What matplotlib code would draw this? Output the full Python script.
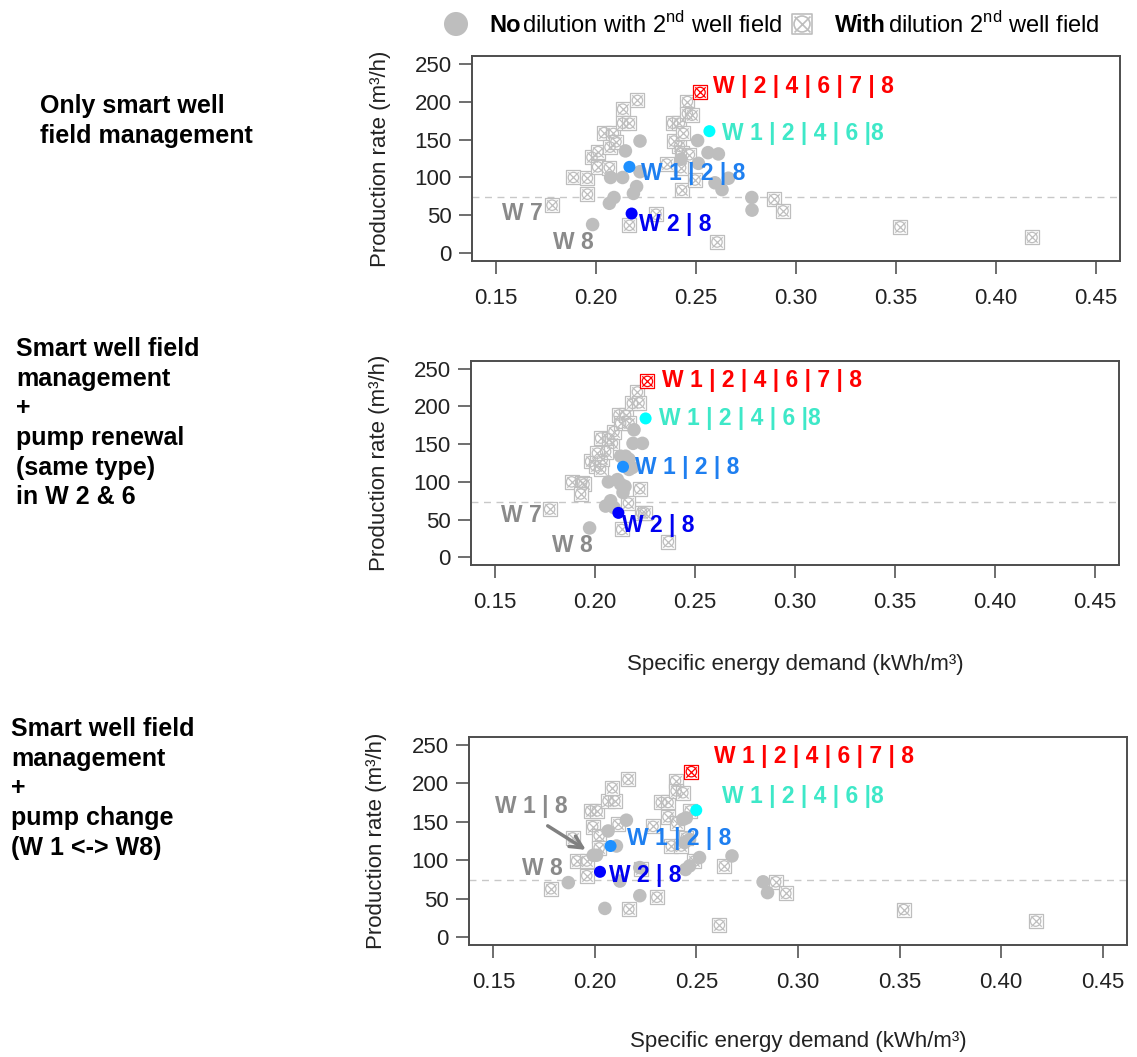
import matplotlib
matplotlib.use("Agg")
import matplotlib.pyplot as plt
import numpy as np

plt.rcParams['font.family'] = ['Liberation Sans', 'DejaVu Sans']
plt.rcParams['mathtext.fontset'] = 'custom'
plt.rcParams['mathtext.rm'] = 'Liberation Sans'

# scenario 1: only smart well field management
s1_nodil_x = [0.1983, 0.2067, 0.209, 0.2073, 0.2133, 0.2147, 0.222, 0.2187, 0.2203, 0.222,
              0.2508, 0.2512, 0.256, 0.2612, 0.2595, 0.263, 0.2662, 0.2779, 0.278, 0.2425]
s1_nodil_y = [38, 66, 73.6, 100, 100, 135, 148, 79, 88, 107.6,
              148.6, 118.6, 132.7, 131, 93, 84, 99, 73.6, 57, 124]
s1_dil_x = [0.178, 0.1887, 0.1957, 0.1957, 0.198, 0.201, 0.2008, 0.204, 0.2087, 0.2067,
            0.207, 0.21, 0.2133, 0.2133, 0.2167, 0.2207, 0.2167, 0.230, 0.2353, 0.2383,
            0.2417, 0.2417, 0.239, 0.2437, 0.2457, 0.2457, 0.248, 0.2428, 0.2467, 0.2423,
            0.2428, 0.2495, 0.2605, 0.289, 0.2935, 0.352, 0.418]
s1_dil_y = [63.5, 100, 99, 78, 126.6, 134, 114, 159, 158, 113,
            140, 147, 190, 171.5, 171.5, 201.5, 37, 51.6, 117.7, 171.5,
            171.5, 141, 148, 158, 200, 184, 182, 132, 130, 113,
            83, 96.6, 15, 71, 56, 35, 21]
s1_best_x = [0.252, 0.2567, 0.2167, 0.2178]
s1_best_y = [212, 161, 114, 52.5]

# scenario 2: smart management + pump renewal in W 2 & 6
s2_nodil_x = [0.1973, 0.2067, 0.2053, 0.2078, 0.2112, 0.2128, 0.215, 0.214, 0.2128, 0.2153,
              0.217, 0.217, 0.2195, 0.219, 0.2237, 0.2187, 0.2095]
s2_nodil_y = [39, 100, 68, 75, 103, 97, 94, 86, 134, 134,
              130, 116.5, 169, 151, 151, 119, 66]
s2_dil_x = [0.1773, 0.1883, 0.1933, 0.1945, 0.1928, 0.1978, 0.2003, 0.2028, 0.2037, 0.2028,
            0.207, 0.2087, 0.2095, 0.212, 0.2128, 0.2153, 0.217, 0.2187, 0.2212, 0.222,
            0.2053, 0.2012, 0.2223, 0.2167, 0.2233, 0.225, 0.2133, 0.2367]
s2_dil_y = [64, 100, 99, 97, 84, 127, 121, 117, 130, 158,
            157, 151, 166.6, 188.5, 177.6, 188.5, 177.6, 204, 219, 204.6,
            140, 138, 91, 72, 59, 59, 37, 21]
s2_best_x = [0.2262, 0.2253, 0.214, 0.2117]
s2_best_y = [233, 184, 120, 59]

# scenario 3: smart management + pump change W 1 <-> W 8
s3_nodil_x = [0.1869, 0.2049, 0.1992, 0.2008, 0.2065, 0.2106, 0.2155, 0.2123, 0.2221, 0.2221,
              0.2446, 0.2466, 0.2433, 0.245, 0.2441, 0.2466, 0.2515, 0.2675, 0.2828, 0.285]
s3_nodil_y = [71, 37.5, 106.5, 106.5, 138, 118.5, 152, 73, 54, 90.5,
              88, 92.6, 153, 155, 123, 127, 103.5, 105.6, 72, 58]
s3_dil_x = [0.1783, 0.189, 0.191, 0.196, 0.196, 0.1979, 0.2011, 0.1989, 0.2021, 0.2021,
            0.2065, 0.2098, 0.2085, 0.2163, 0.2114, 0.2167, 0.2229, 0.2286, 0.2305, 0.2327,
            0.236, 0.236, 0.2397, 0.24, 0.2433, 0.2403, 0.2376, 0.2425, 0.2449, 0.2469,
            0.249, 0.2637, 0.2613, 0.289, 0.294, 0.352, 0.417]
s3_dil_y = [63, 129, 99, 99, 80, 164, 164, 143.6, 132, 116,
            177, 177, 194, 205, 146.6, 36.6, 89, 144, 52, 175,
            175, 156.5, 203, 190, 187.6, 149, 118.5, 118.5, 129, 164,
            99, 92.6, 16, 72, 57, 36, 21]
s3_best_x = [0.2475, 0.2499, 0.2077, 0.2025]
s3_best_y = [215, 165, 118.5, 85]

min_rate = 74

W, H = 1137, 1057
GREY = '#BEBEBE'
TXT_GREY = '#8A8A8A'
best_cols = ['#FF0000', '#00FFFF', '#1E90FF', '#0000FF']
label_cols = ['#FF0000', '#3EE8C8', '#1E7FF0', '#0000F0']

fig = plt.figure(figsize=(W / 100, H / 100), dpi=100)


def px_axes(left, top, right, bottom):
    return fig.add_axes([left / W, 1 - bottom / H, (right - left) / W, (bottom - top) / H])


def crossed(ax, x, y, col, size=13, lw=0.9, z=2):
    ax.scatter(x, y, marker='s', s=size ** 2 * 0.55, facecolors='white', edgecolors=col, linewidths=lw, zorder=z)
    ax.scatter(x, y, marker='o', s=size ** 2 * 0.33, facecolors='none', edgecolors=col, linewidths=lw, zorder=z)
    ax.scatter(x, y, marker='x', s=size ** 2 * 0.33, color=col, linewidths=lw, zorder=z)


def panel(ax, nx, ny, dx, dy, bx, by, labels, xlabel):
    ax.axhline(min_rate, color='#C8C8C8', lw=1, ls=(0, (5, 4)), zorder=1)
    crossed(ax, dx, dy, GREY)
    ax.scatter(nx, ny, s=95, color=GREY, edgecolors='none', zorder=3)
    crossed(ax, bx[:1], by[:1], best_cols[0], z=4)
    ax.scatter(bx[1:], by[1:], s=75, color=best_cols[1:], edgecolors='none', zorder=4)
    for txt, lx, ly, col in labels:
        ax.text(lx, ly, txt, color=col, fontsize=16.5, fontweight='bold', va='center', ha='left', zorder=5)
    ax.set_xlim(0.138, 0.462)
    ax.set_ylim(-10, 260)
    ax.set_xticks(np.arange(0.15, 0.451, 0.05))
    ax.set_xticklabels(['%.2f' % v for v in np.arange(0.15, 0.451, 0.05)])
    ax.set_yticks([0, 50, 100, 150, 200, 250])
    ax.tick_params(direction='out', length=9.5, width=1.2, color='#555555', labelsize=16,
                   labelcolor='#222222')
    ax.tick_params(axis='x', pad=10)
    ax.tick_params(axis='y', pad=5)
    for sp in ax.spines.values():
        sp.set_color('#4d4d4d')
        sp.set_linewidth(1.4)
    ax.set_ylabel('Production rate (m³/h)', fontsize=16, color='#222222')
    ax.yaxis.set_label_coords(-0.125, 0.5)
    if xlabel:
        ax.set_xlabel('Specific energy demand (kWh/m³)', fontsize=16, color='#222222')


ax1 = px_axes(472, 56, 1120, 261)
panel(ax1, s1_nodil_x, s1_nodil_y, s1_dil_x, s1_dil_y, s1_best_x, s1_best_y,
      [('W | 2 | 4 | 6 | 7 | 8', 0.2583, 220, label_cols[0]),
       ('W 1 | 2 | 4 | 6 |8', 0.2628, 158, label_cols[1]),
       ('W 1 | 2 | 8', 0.2223, 105, label_cols[2]),
       ('W 2 | 8', 0.2217, 38, label_cols[3]),
       ('W 7', 0.1528, 52.5, TXT_GREY),
       ('W 8', 0.1787, 15, TXT_GREY)], False)

ax2 = px_axes(471, 361, 1119, 565)
panel(ax2, s2_nodil_x, s2_nodil_y, s2_dil_x, s2_dil_y, s2_best_x, s2_best_y,
      [('W 1 | 2 | 4 | 6 | 7 | 8', 0.2337, 234.6, label_cols[0]),
       ('W 1 | 2 | 4 | 6 |8', 0.232, 183.6, label_cols[1]),
       ('W 1 | 2 | 8', 0.2200, 119, label_cols[2]),
       ('W 2 | 8', 0.2133, 42, label_cols[3]),
       ('W 7', 0.1528, 55, TXT_GREY),
       ('W 8', 0.1787, 15.6, TXT_GREY)], True)
ax2.xaxis.set_label_coords(0.5, -0.435)

ax3 = px_axes(469, 737, 1127, 945)
panel(ax3, s3_nodil_x, s3_nodil_y, s3_dil_x, s3_dil_y, s3_best_x, s3_best_y,
      [('W 1 | 2 | 4 | 6 | 7 | 8', 0.2584, 235, label_cols[0]),
       ('W 1 | 2 | 4 | 6 |8', 0.2625, 183, label_cols[1]),
       ('W 1 | 2 | 8', 0.2158, 128, label_cols[2]),
       ('W 2 | 8', 0.2067, 80, label_cols[3]),
       ('W 1 | 8', 0.151, 169.5, TXT_GREY),
       ('W 8', 0.1641, 89, TXT_GREY)], True)
ax3.xaxis.set_label_coords(0.5, -0.415)
ax3.annotate('', xy=(0.1967, 111.6), xytext=(0.1756, 146.6),
             arrowprops=dict(arrowstyle='->', color='#808080', lw=2.5, mutation_scale=22), zorder=5)

# scenario descriptions on the left
side = dict(fontsize=18, fontweight='bold', va='top', ha='left', linespacing=1.3)
fig.text(40 / W, 1 - 94 / H, 'Only smart well\nfield management', **side)
fig.text(16 / W, 1 - 337 / H, 'Smart well field\nmanagement\n+\npump renewal\n(same type)\nin W 2 & 6', **side)
fig.text(11 / W, 1 - 717 / H, 'Smart well field\nmanagement\n+\npump change\n(W 1 <-> W8)', **side)

# legend row
leg = fig.add_axes([0, 1 - 48 / H, 1, 48 / H])
leg.set_xlim(0, W)
leg.set_ylim(48, 0)
leg.axis('off')
leg.scatter([456], [24], s=300, color=GREY, edgecolors='none')
crossed(leg, [802], [24], GREY, size=20, lw=1.2)
leg.text(489, 25, 'No', fontsize=17, fontweight='bold', va='center')
leg.text(522, 25, r'dilution with 2$^{\mathrm{nd}}$ well field', fontsize=17, va='center')
leg.text(835, 25, 'With', fontsize=17, fontweight='bold', va='center')
leg.text(888, 25, r'dilution 2$^{\mathrm{nd}}$ well field', fontsize=17, va='center')

fig.savefig('out.png', dpi=100, facecolor='white')
